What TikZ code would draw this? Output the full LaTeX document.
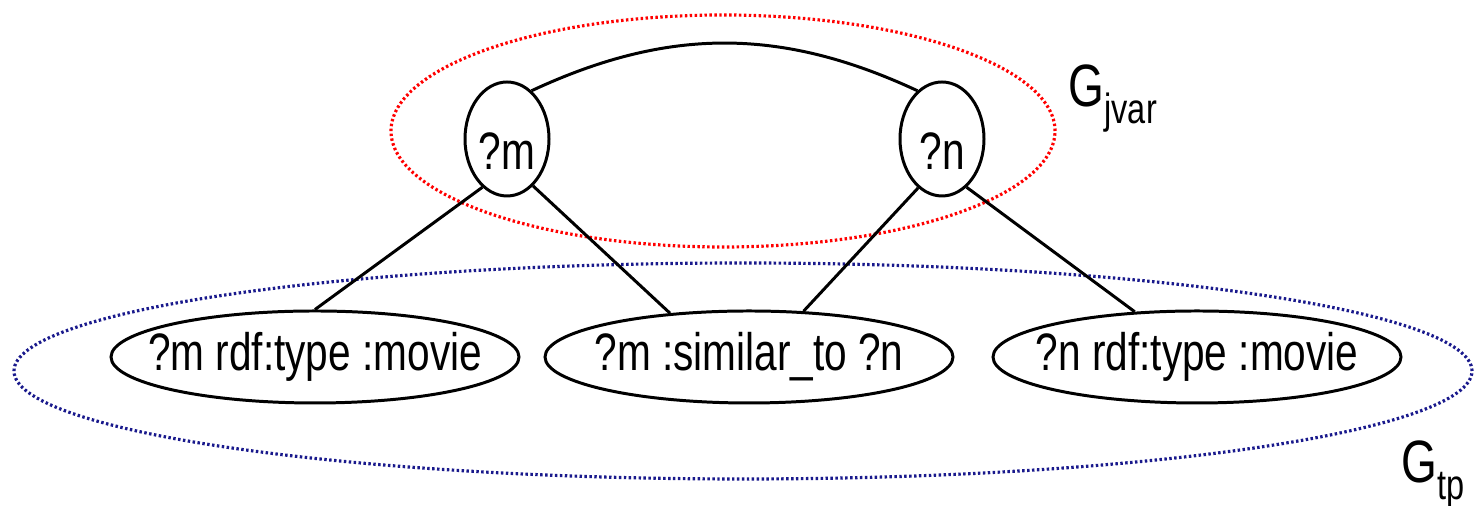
\documentclass[tikz,border=0pt]{standalone}
\usepackage{fontspec}
\setmainfont{Liberation Sans}[FakeStretch=0.77]
\usetikzlibrary{shapes.geometric}
\definecolor{jvarred}{rgb}{1,0,0}
\definecolor{tpblue}{rgb}{0.1,0.1,0.55}
\tikzset{
  edge/.style={draw=black, line width=0.85pt},
  varnode/.style={
    ellipse,
    draw=black,
    line width=0.85pt,
    minimum width=0.84cm,
    minimum height=1.14cm,
    inner sep=0pt,
    text height=0.62cm,
    text depth=0pt,
    font=\fontsize{15}{18}\selectfont
  },
  tpnode/.style={
    ellipse,
    draw=black,
    line width=0.85pt,
    minimum width=4.08cm,
    minimum height=0.92cm,
    inner sep=0pt,
    font=\fontsize{15}{18}\selectfont
  },
  group/.style={ellipse, dash pattern=on 0.7pt off 0.7pt, line width=0.9pt, inner sep=0pt},
  grouplabel/.style={anchor=base west, inner sep=0pt, font=\fontsize{17}{20}\selectfont}
}
\begin{document}
\begin{tikzpicture}
  \useasboundingbox (0,0) rectangle (14.75,5.06);

  % the two groupings, drawn first
  \node[group, draw=jvarred, minimum width=6.64cm, minimum height=2.32cm] (jvar) at (7.23,3.75) {};
  \node[group, draw=tpblue, minimum width=14.58cm, minimum height=2.16cm] (tp) at (7.43,1.35) {};
  \node[grouplabel] (Ljvar) at (10.68,3.99) {G\raisebox{-0.17cm}{\fontsize{12}{14}\selectfont jvar}};
  \node[grouplabel] (Ltp) at (14.01,0.23) {G\raisebox{-0.17cm}{\fontsize{12}{14}\selectfont tp}};

  \node[varnode] (m) at (5.07,3.67) {?m};
  \node[varnode] (n) at (9.42,3.67) {?n};

  \node[tpnode] (t1) at (3.15,1.49) {\makebox[0pt]{?m rdf:type :movie}};
  \node[tpnode] (t2) at (7.49,1.49) {\makebox[0pt]{?m :similar\_to ?n}};
  \node[tpnode] (t3) at (11.97,1.49) {\makebox[0pt]{?n rdf:type :movie}};

  \draw[edge] (m.63) to[bend left=25] (n.117);
  \draw[edge] (m.-117) -- (t1.north);
  \draw[edge] (m.-61) -- (t2.151);
  \draw[edge] (n.-116) -- (t2.40);
  \draw[edge] (n.-63) -- (t3.144);
\end{tikzpicture}
\end{document}
